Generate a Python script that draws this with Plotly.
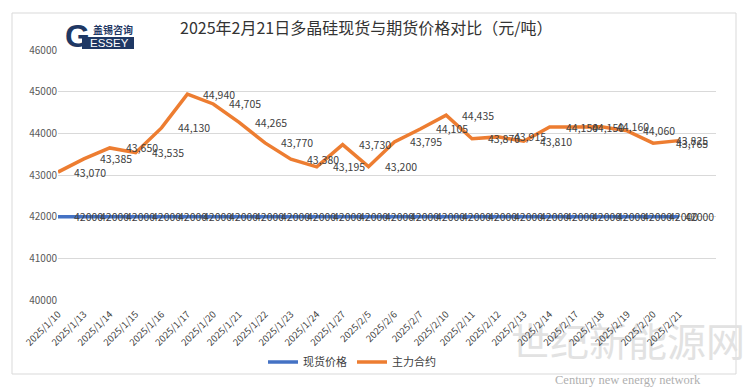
import plotly.graph_objects as go

dates = ["2025/1/10", "2025/1/13", "2025/1/14", "2025/1/15", "2025/1/16", "2025/1/17",
         "2025/1/20", "2025/1/21", "2025/1/22", "2025/1/23", "2025/1/24", "2025/1/27",
         "2025/2/5", "2025/2/6", "2025/2/7", "2025/2/10", "2025/2/11", "2025/2/12",
         "2025/2/13", "2025/2/14", "2025/2/17", "2025/2/18", "2025/2/19", "2025/2/20",
         "2025/2/21"]
spot_price = [42000] * 25
futures_price = [43070, 43385, 43650, 43535, 44130, 44940, 44705, 44265, 43770, 43380,
                 43195, 43730, 43200, 43795, 44105, 44435, 43870, 43915, 43810, 44150,
                 44150, 44160, 44060, 43765, 43825]
y_ticks = [40000, 41000, 42000, 43000, 44000, 45000, 46000]

FONT = "Noto Sans CJK SC"
BLUE = "#4472C4"
ORANGE = "#ED7D31"

fig = go.Figure()
fig.add_trace(go.Scatter(x=dates, y=spot_price, mode="lines", name="现货价格",
                         line=dict(color=BLUE, width=3.5)))
fig.add_trace(go.Scatter(x=dates, y=futures_price, mode="lines", name="主力合约",
                         line=dict(color=ORANGE, width=3.5)))

annotations = []
n = len(dates)
for i, (d, v) in enumerate(zip(dates, spot_price)):
    annotations.append(dict(x=d, y=v, xref="x", yref="y", text=str(v), showarrow=False,
                            xanchor="left", yanchor="middle", xshift=14 if i < n - 1 else 4,
                            font=dict(family=FONT, size=10.5, color="#404040")))
for i, (d, v) in enumerate(zip(dates, futures_price)):
    annotations.append(dict(x=d, y=v, xref="x", yref="y", text=f"{v:,}", showarrow=False,
                            xanchor="left", yanchor="middle",
                            xshift=14 if i < n - 2 else (21 if i == n - 2 else -5),
                            font=dict(family=FONT, size=10.5, color="#404040")))

L, R, T, B = 58, 716, 50, 300
W, H = 748, 388
def px(xp):
    return (xp - L) / (R - L)
def py(yp):
    return (B - yp) / (B - T)

annotations.append(dict(x=px(366), y=py(27), xref="paper", yref="paper",
                        text="2025年2月21日多晶硅现货与期货价格对比（元/吨）", showarrow=False,
                        xanchor="center", yanchor="middle",
                        font=dict(family=FONT, size=16, color="#333333")))
# logo
annotations.append(dict(x=px(77), y=py(36), xref="paper", yref="paper", text="<b>G</b>",
                        showarrow=False, xanchor="center", yanchor="middle",
                        font=dict(family="Liberation Sans", size=32, color="#1F3864")))
annotations.append(dict(x=px(109), y=py(43), xref="paper", yref="paper", text="ESSEY",
                        showarrow=False, xanchor="center", yanchor="middle",
                        font=dict(family="Liberation Sans", size=11.5, color="white")))
annotations.append(dict(x=px(113), y=py(30), xref="paper", yref="paper", text="<b>盖锡咨询</b>",
                        showarrow=False, xanchor="center", yanchor="middle",
                        font=dict(family=FONT, size=10, color="#1F3864")))
annotations.append(dict(x=px(628), y=py(380), xref="paper", yref="paper",
                        text="Century new energy network", showarrow=False,
                        xanchor="center", yanchor="middle",
                        font=dict(family="Liberation Serif", size=12.5, color="#b0b0b0")))

shapes = [
    dict(type="rect", xref="paper", yref="paper", x0=px(12), x1=px(736), y0=py(374), y1=py(13),
         line=dict(color="#D9D9D9", width=1), fillcolor="rgba(0,0,0,0)", layer="below"),
    dict(type="rect", xref="paper", yref="paper", x0=px(82), x1=px(134), y0=py(49), y1=py(37),
         line=dict(width=0), fillcolor="#1F3864", layer="below"),
]

fig.update_layout(
    width=W, height=H,
    margin=dict(l=L, r=W - R, t=T, b=H - B, autoexpand=False),
    paper_bgcolor="white", plot_bgcolor="white",
    font=dict(family=FONT, size=10, color="#595959"),
    showlegend=True,
    legend=dict(orientation="h", x=px(352), y=py(362), xanchor="center", yanchor="middle",
                font=dict(family=FONT, size=11, color="#404040"), itemwidth=30,
                tracegroupgap=0, bgcolor="rgba(0,0,0,0)"),
    annotations=annotations,
    shapes=shapes,
)

# watermark drawn beneath the axis labels
wm = dict(type="rect", xref="paper", yref="paper", x0=px(515), x1=px(741), y0=py(372), y1=py(318),
          line=dict(width=0), fillcolor="rgba(0,0,0,0)", layer="below")
try:
    fig.add_shape(**wm, label=dict(text="世纪新能源网", textposition="middle center",
                                   font=dict(family=FONT, size=39, color="#e2e2e2")))
except Exception:
    fig.add_annotation(x=px(628), y=py(345), xref="paper", yref="paper", text="世纪新能源网",
                       showarrow=False, font=dict(family=FONT, size=39, color="#e2e2e2"))

fig.update_xaxes(type="category", tickangle=-45, showgrid=False, showline=False, ticks="",
                 automargin=False, ticklabelstandoff=6,
                 tickfont=dict(family=FONT, size=9.5, color="#404040"))
fig.update_yaxes(range=[40000, 46000], tickvals=y_ticks, ticktext=[str(t) for t in y_ticks],
                 showgrid=True, gridcolor="#D9D9D9", gridwidth=1, zeroline=False, automargin=False,
                 showline=False, ticks="", tickfont=dict(family=FONT, size=10, color="#595959"))

fig.write_html("out.html", post_script="document.body.style.margin='0';",
               config={"displayModeBar": False})
